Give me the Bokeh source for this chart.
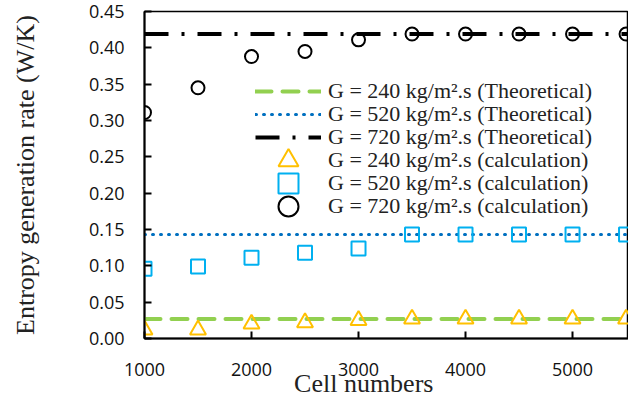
import math
from bokeh.plotting import figure
from bokeh.models import (Legend, LegendItem, FixedTicker, NumeralTickFormatter,
                          Range1d)
from bokeh.embed import file_html
from bokeh.resources import INLINE

# ---- data ----
cells = [1000, 1500, 2000, 2500, 3000, 3500, 4000, 4500, 5000, 5500]
calc_240 = [0.012, 0.012, 0.020, 0.022, 0.025, 0.027, 0.027, 0.027, 0.027, 0.027]
calc_520 = [0.096, 0.099, 0.111, 0.118, 0.124, 0.143, 0.143, 0.143, 0.143, 0.143]
calc_720 = [0.311, 0.345, 0.388, 0.395, 0.411, 0.419, 0.419, 0.419, 0.419, 0.419]
theory_x = [1000, 6000]
theory_240 = [0.027, 0.027]
theory_520 = [0.143, 0.143]
theory_720 = [0.419, 0.419]
x_ticks = [1000, 2000, 3000, 4000, 5000]
y_ticks = [0.0, 0.05, 0.10, 0.15, 0.20, 0.25, 0.30, 0.35, 0.40, 0.45]

labels = [
    "G = 240 kg/m\u00b2.s (Theoretical)",
    "G = 520 kg/m\u00b2.s (Theoretical)",
    "G = 720 kg/m\u00b2.s (Theoretical)",
    "G = 240 kg/m\u00b2.s (calculation)",
    "G = 520 kg/m\u00b2.s (calculation)",
    "G = 720 kg/m\u00b2.s (calculation)",
]
x_title = "Cell numbers"
y_title = "Entropy generation rate (W/K)"

p = figure(width=628, height=400, output_backend="svg", toolbar_location=None,
           x_range=Range1d(1000, 5523), y_range=Range1d(0, 0.45),
           min_border_left=144, min_border_right=0, min_border_top=11,
           min_border_bottom=62)
p.background_fill_color = "white"
p.border_fill_color = "white"
p.outline_line_color = "black"
p.outline_line_width = 1.5
p.xgrid.visible = False
p.ygrid.visible = False

for ax in (p.xaxis[0], p.yaxis[0]):
    ax.axis_line_width = 2
    ax.axis_line_color = "black"
    ax.major_tick_line_width = 2
    ax.major_tick_line_color = "black"
    ax.major_tick_in = 7
    ax.major_tick_out = 0
    ax.minor_tick_line_color = None
    ax.major_label_text_font = "Open Sans"
    ax.major_label_text_font_size = "18px"
    ax.major_label_text_color = "#111111"
    ax.axis_label_text_font = "Liberation Serif"
    ax.axis_label_text_font_size = "26px"
    ax.axis_label_text_font_style = "normal"
    ax.axis_label_text_color = "#222222"

p.yaxis.major_label_standoff = 20
p.xaxis.major_label_standoff = 24
p.xaxis.ticker = FixedTicker(ticks=x_ticks)
p.yaxis.ticker = FixedTicker(ticks=y_ticks)
p.yaxis.formatter = NumeralTickFormatter(format="0.00")

# axis titles; trailing no-break spaces shift the x title left of centre
# the way the reference places it
p.xaxis.axis_label = x_title + "\u00a0" * 7
p.xaxis.axis_label_standoff = -10
p.yaxis.axis_label = y_title
p.yaxis.axis_label_standoff = 46

# theoretical lines
l240 = p.line(theory_x, theory_240, line_color="#92D050", line_width=4,
              line_dash="16 11", line_cap="round")
l520 = p.line(theory_x, theory_520, line_color="#0070C0", line_width=3,
              line_dash="1 7", line_cap="round")
l720 = p.line(theory_x, theory_720, line_color="black", line_width=4,
              line_dash="24 13 3 13")

# calculated markers
s240 = p.scatter(cells, calc_240, marker="triangle", size=16, fill_color=None,
                 line_color="#FFC000", line_width=2)
s520 = p.scatter(cells, calc_520, marker="square", size=14, fill_color=None,
                 line_color="#00B0F0", line_width=2)
s720 = p.scatter(cells, calc_720, marker="circle", size=13, fill_color=None,
                 line_color="black", line_width=2)

common = dict(background_fill_alpha=0, border_line_alpha=0, padding=0, margin=0,
              label_text_font="Liberation Serif", label_text_font_size="22px",
              label_text_color="#222222", glyph_width=66, label_standoff=7,
              spacing=0)

# one legend per entry so that each row sits exactly where the reference has it
renderers = [l240, l520, l720, s240, s520, s720]
row_centers = [91, 114, 137, 160, 183, 206]   # px from the top of the canvas
frame_bottom = 338
for i, (r, lab) in enumerate(zip(renderers, labels)):
    gh = 30 if i < 3 else 50
    vy = frame_bottom - (row_centers[i] + gh // 2)
    leg = Legend(items=[LegendItem(label=lab, renderers=[r])],
                 location=(111, vy), glyph_height=gh, label_height=gh, **common)
    p.add_layout(leg, "center")

open("out.html", "w").write(file_html(p, INLINE))
